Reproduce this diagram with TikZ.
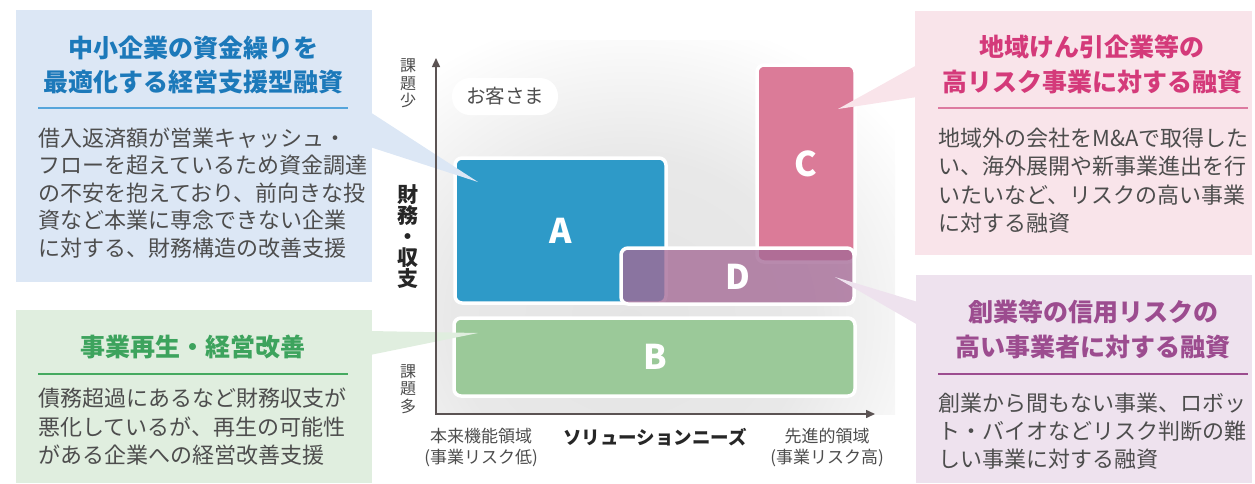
\documentclass[tikz,border=0pt]{standalone}
\usepackage{fontspec}
\setmainfont{Noto Sans CJK JP}
\usetikzlibrary{arrows.meta}
\setlength{\lineskiplimit}{-50pt}
\definecolor{blueF}{HTML}{DCE7F5}
\definecolor{blueT}{HTML}{1C79BA}
\definecolor{blueR}{HTML}{55A5DB}
\definecolor{greenF}{HTML}{E0EEDF}
\definecolor{greenT}{HTML}{3DA35D}
\definecolor{greenR}{HTML}{45AA60}
\definecolor{pinkF}{HTML}{F9E4EA}
\definecolor{pinkT}{HTML}{D43A7A}
\definecolor{pinkR}{HTML}{DD7AA0}
\definecolor{purpF}{HTML}{EEE2EE}
\definecolor{purpT}{HTML}{9C4C8F}
\definecolor{purpR}{HTML}{9C4C8F}
\definecolor{bodyT}{HTML}{4D4D4D}
\definecolor{axisC}{HTML}{5B5353}
\definecolor{boxA}{HTML}{2E9AC8}
\definecolor{boxB}{HTML}{9BC999}
\definecolor{boxC}{HTML}{DB7B98}
\definecolor{boxD}{HTML}{A56A96}
\definecolor{bgA}{gray}{0.895}
\definecolor{bgB}{gray}{0.91}
\pgfdeclareradialshading{bgglow}{\pgfpoint{0bp}{0bp}}{color(0bp)=(bgA); color(13bp)=(bgB); color(25bp)=(white); color(50bp)=(white)}
\tikzset{
  ttl/.style={font=\fontsize{25}{30}\selectfont\bfseries, inner sep=0pt, anchor=base},
  body/.style={font=\fontsize{22}{26}\selectfont, text=bodyT, inner sep=0pt, anchor=base west},
  cbox/.style={draw=white, line width=3.5pt, rounded corners=7pt},
  letter/.style={font=\fontsize{34}{40}\selectfont\bfseries, text=white, inner sep=0pt},
  axlab/.style={font=\fontsize{16}{17.5}\selectfont, text=bodyT, align=center, inner sep=0pt},
  botlab/.style={font=\fontsize{17}{21}\selectfont, text=bodyT, align=center, inner sep=0pt},
}
\begin{document}
\begin{tikzpicture}[x=1pt, y=-1pt]
\useasboundingbox (0,0) rectangle (1255,483);

% ---- callout boxes
\fill[blueF] (16,10) rectangle (372,282);
\fill[greenF] (16,310) rectangle (372,483);
\fill[pinkF] (915,11) rectangle (1252,255);
\fill[purpF] (916,275) rectangle (1252,483);

% ---- chart background
\begin{scope}
  \clip (436,40) rectangle (895,414);
  \shade[shading=bgglow] (630,320) ellipse [x radius=340pt, y radius=310pt];
\end{scope}

% ---- quadrant boxes
\path[cbox, fill=boxC] (757,65) rectangle (855,262);
\path[cbox, fill=boxA] (455,158) rectangle (666,303);
\path[cbox, fill=boxB] (454,318) rectangle (855,396);
\path[cbox, fill=boxD, fill opacity=0.78] (621,248) rectangle (854,304);

\node[letter] (la) at (560.5,231) {A};
\node[letter] (lb) at (655,357) {B};
\node[letter] (lc) at (806,164) {C};
\node[letter] (ld) at (737.5,276.5) {D};

% ---- pointer wedges
\fill[blueF] (370,112) -- (478,182) -- (370,147) -- cycle;
\fill[greenF] (370,331) -- (478,333) -- (370,355) -- cycle;
\fill[pinkF] (917,65) -- (838,109) -- (917,97) -- cycle;
\fill[purpF] (918,302) -- (835,277) -- (918,325) -- cycle;

% ---- axes
\coordinate (origin) at (436,414);
\coordinate (ytip) at (436,58);
\coordinate (xtip) at (875,414);
\draw[axisC, line width=1.5pt, {Triangle[length=9pt,width=8pt]}-{Triangle[length=9pt,width=8pt]}] (ytip) -- (origin) -- (xtip);

% ---- customer pill
\node[fill=white, rounded corners=18pt, minimum width=106pt, minimum height=37pt, inner sep=0pt,
      font=\fontsize{19.5}{22}\selectfont, text=bodyT] (cust) at (505,96.5) {お客さま};

% ---- axis labels
\node[axlab] (ylow) at (408,83.5) {課\\題\\少};
\node[axlab] (yhigh) at (408,389) {課\\題\\多};
\node[font=\fontsize{21}{21}\selectfont\bfseries, text=black!85, align=center, inner sep=0pt] (ymain) at (408,237) {財\\務\\・\\収\\支};
\node[botlab] (xlow) at (481,447.5) {本来機能領域\\(事業リスク低)};
\node[botlab] (xhigh) at (827,447.5) {先進的領域\\(事業リスク高)};
\node[font=\fontsize{18.5}{22}\selectfont\bfseries, text=black!85, inner sep=0pt] (xmain) at (655,437) {ソリューションニーズ};

% ---- blue callout text
\node[ttl, text=blueT] (bt1) at (193,57.3) {中小企業の資金繰りを};
\node[ttl, text=blueT] (bt2) at (193,91.3) {最適化する経営支援型融資};
\draw[blueR, line width=1.2pt] (38,108) -- (348,108);
\foreach \t [count=\i] in {借入返済額が営業キャッシュ・,フローを超えているため資金調達,の不安を抱えており、前向きな投,資など本業に専念できない企業,に対する、財務構造の改善支援}
  \node[body] (bb\i) at ({38},{146+27.5*(\i-1)}) {\t};

% ---- green callout text
\node[ttl, text=greenT] (gt1) at (193,356.5) {事業再生・経営改善};
\draw[greenR, line width=1.2pt] (38,374) -- (348,374);
\foreach \t [count=\i] in {債務超過にあるなど財務収支が,悪化しているが、再生の可能性,がある企業への経営改善支援}
  \node[body] (gb\i) at ({38},{406.5+28.5*(\i-1)}) {\t};

% ---- pink callout text
\node[ttl, text=pinkT] (pt1) at (1092,56.5) {地域けん引企業等の};
\node[ttl, text=pinkT] (pt2) at (1092,91.5) {高リスク事業に対する融資};
\draw[pinkR, line width=1.2pt] (938,108) -- (1248,108);
\foreach \t [count=\i] in {地域外の会社をM\&Aで取得した,い、海外展開や新事業進出を行,いたいなど、リスクの高い事業,に対する融資}
  \node[body] (pb\i) at ({938},{146+28.5*(\i-1)}) {\t};

% ---- purple callout text
\node[ttl, text=purpT] (ut1) at (1093,321.5) {創業等の信用リスクの};
\node[ttl, text=purpT] (ut2) at (1093,356.5) {高い事業者に対する融資};
\draw[purpR, line width=1.2pt] (938,374) -- (1248,374);
\foreach \t [count=\i] in {創業から間もない事業、ロボッ,ト・バイオなどリスク判断の難,しい事業に対する融資}
  \node[body] (ub\i) at ({938},{411.4+27.8*(\i-1)}) {\t};
\end{tikzpicture}
\end{document}
